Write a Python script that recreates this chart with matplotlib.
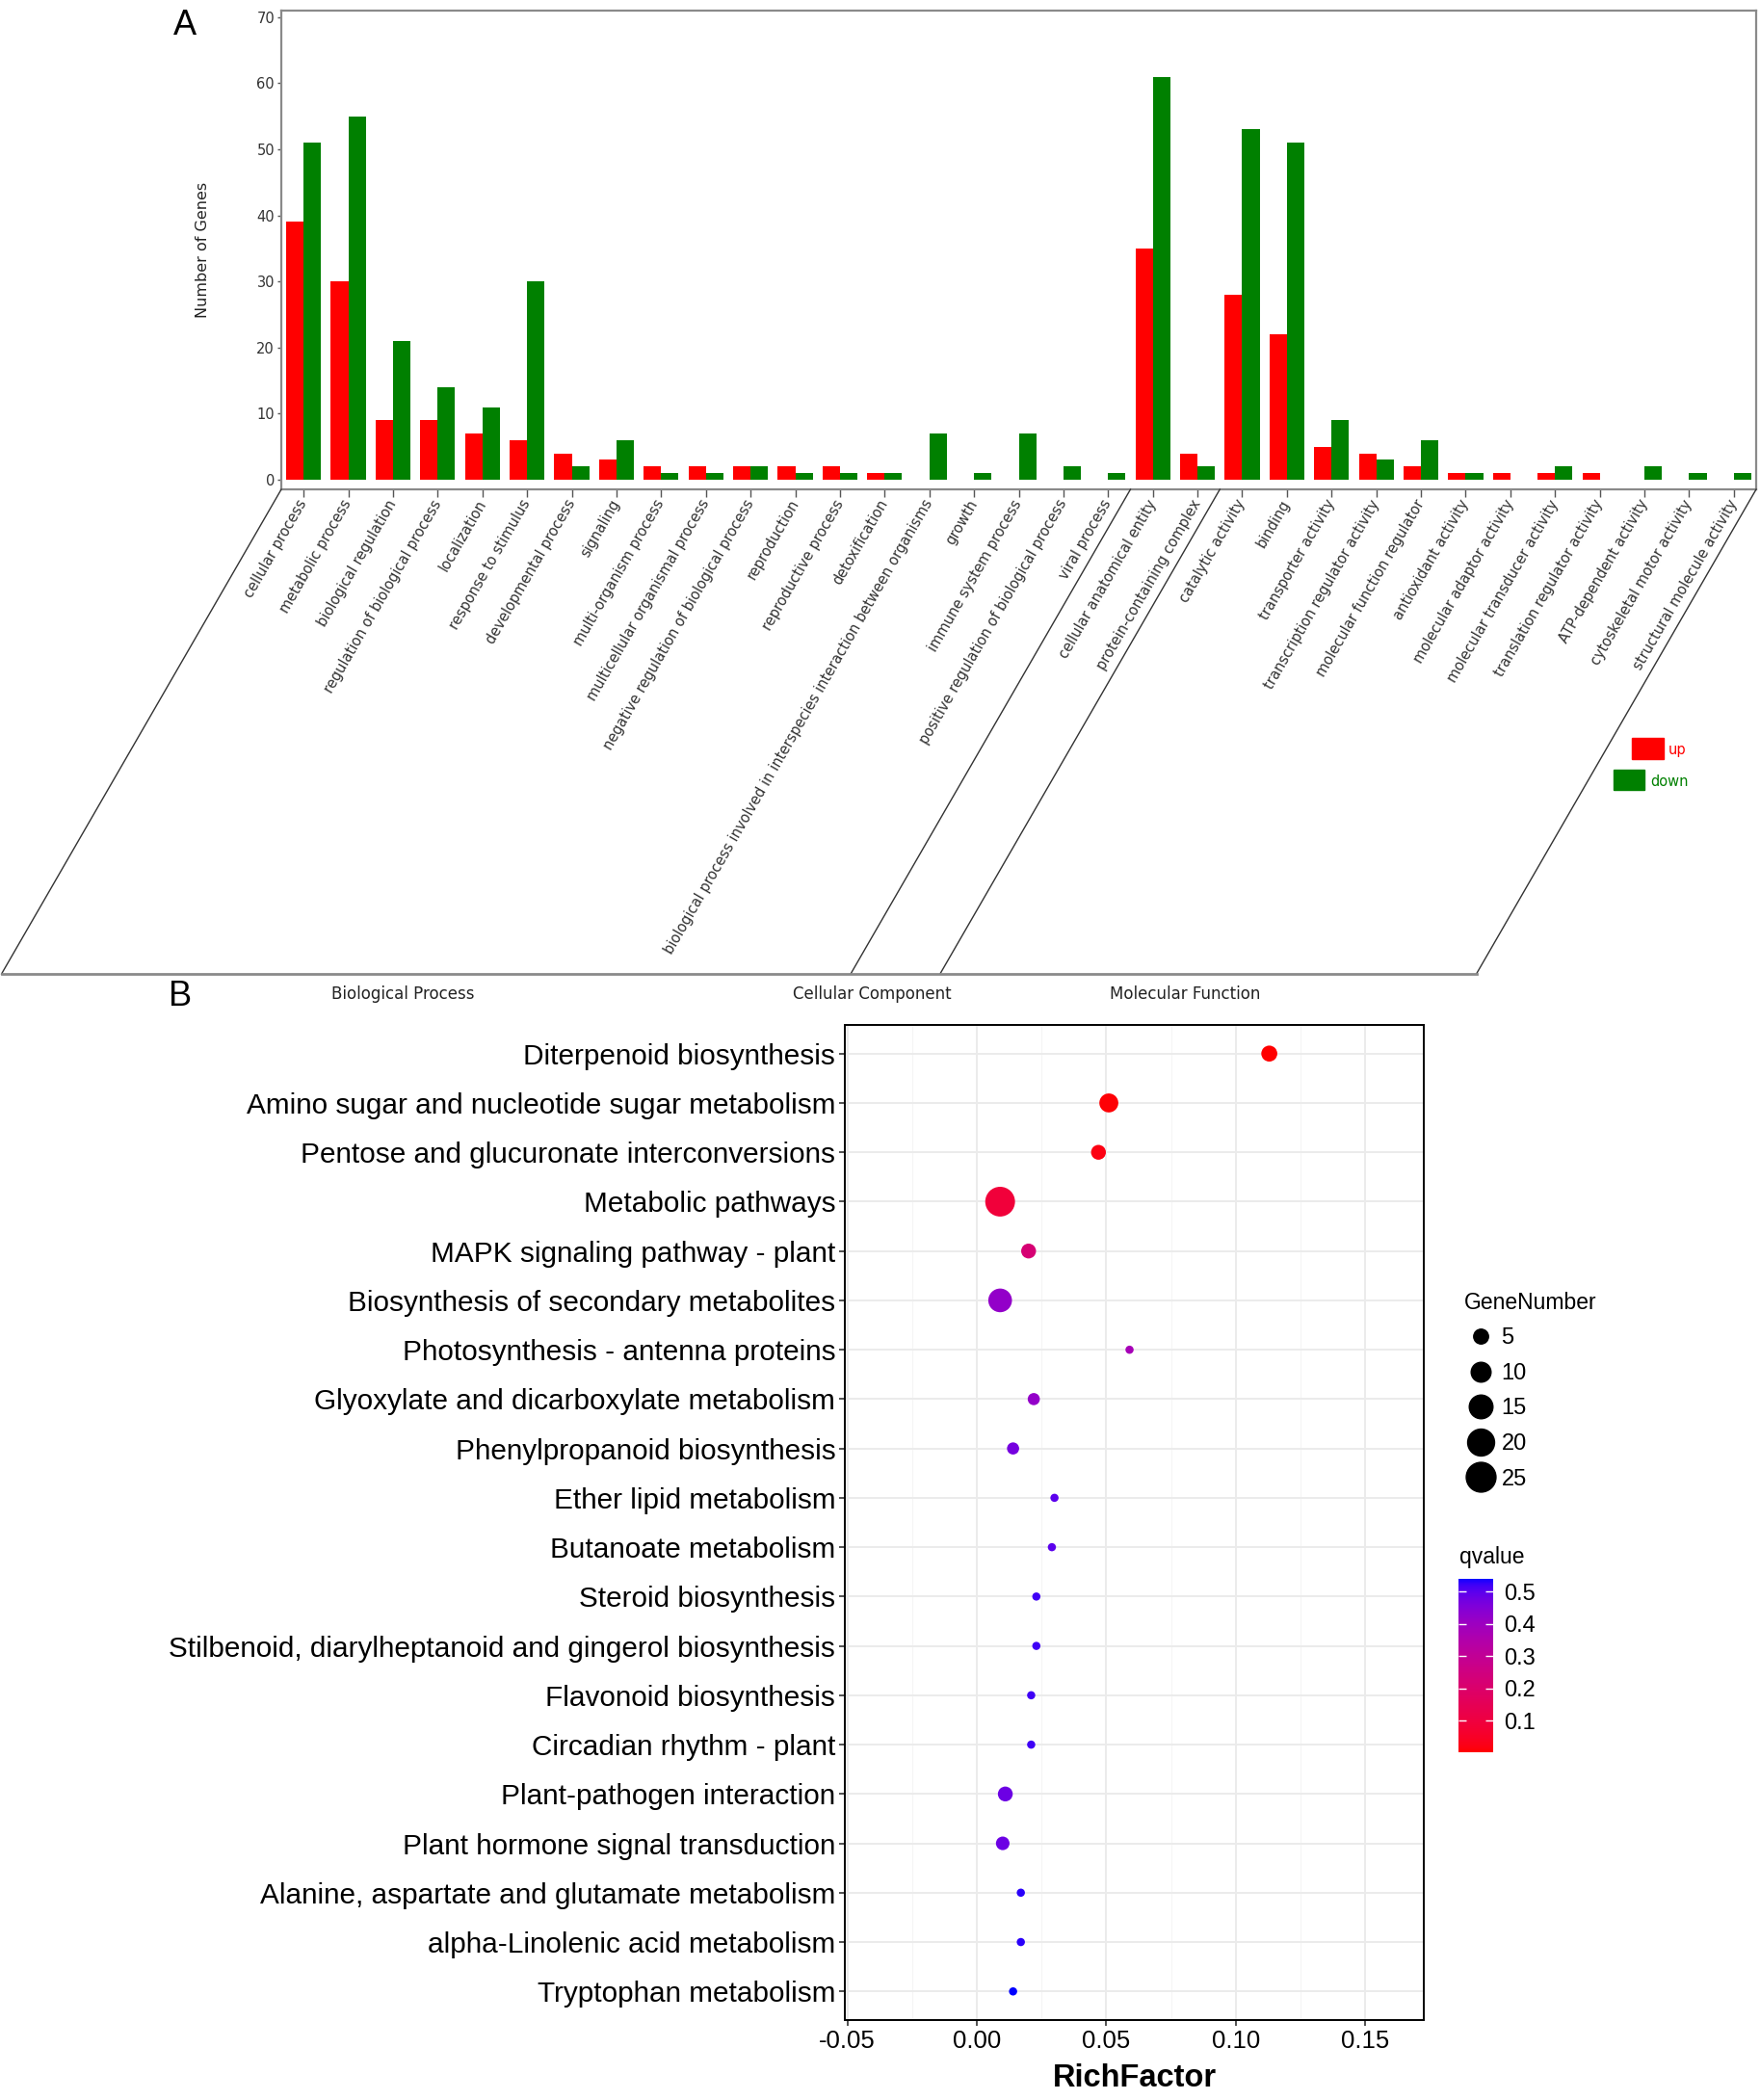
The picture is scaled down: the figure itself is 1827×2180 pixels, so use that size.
import numpy as np
import matplotlib
matplotlib.use("Agg")
import matplotlib.pyplot as plt
from matplotlib.colors import LinearSegmentedColormap
from matplotlib.lines import Line2D
from matplotlib.patches import Rectangle

# ---- panel A: GO classification ----
go_terms = [
    "cellular process", "metabolic process", "biological regulation",
    "regulation of biological process", "localization", "response to stimulus",
    "developmental process", "signaling", "multi-organism process",
    "multicellular organismal process", "negative regulation of biological process",
    "reproduction", "reproductive process", "detoxification",
    "biological process involved in interspecies interaction between organisms",
    "growth", "immune system process", "positive regulation of biological process",
    "viral process",
    "cellular anatomical entity", "protein-containing complex",
    "catalytic activity", "binding", "transporter activity",
    "transcription regulator activity", "molecular function regulator",
    "antioxidant activity", "molecular adaptor activity",
    "molecular transducer activity", "translation regulator activity",
    "ATP-dependent activity", "cytoskeletal motor activity",
    "structural molecule activity",
]
go_up = [39, 30, 9, 9, 7, 6, 4, 3, 2, 2, 2, 2, 2, 1, 0, 0, 0, 0, 0,
         35, 4,
         28, 22, 5, 4, 2, 1, 1, 1, 1, 0, 0, 0]
go_down = [51, 55, 21, 14, 11, 30, 2, 6, 1, 1, 2, 1, 1, 1, 7, 1, 7, 2, 1,
           61, 2,
           53, 51, 9, 3, 6, 1, 0, 2, 0, 2, 1, 1]
go_groups = ["Biological Process", "Cellular Component", "Molecular Function"]
go_group_sizes = [19, 2, 12]

# ---- panel B: KEGG enrichment ----
pathways = [
    "Diterpenoid biosynthesis",
    "Amino sugar and nucleotide sugar metabolism",
    "Pentose and glucuronate interconversions",
    "Metabolic pathways",
    "MAPK signaling pathway - plant",
    "Biosynthesis of secondary metabolites",
    "Photosynthesis - antenna proteins",
    "Glyoxylate and dicarboxylate metabolism",
    "Phenylpropanoid biosynthesis",
    "Ether lipid metabolism",
    "Butanoate metabolism",
    "Steroid biosynthesis",
    "Stilbenoid, diarylheptanoid and gingerol biosynthesis",
    "Flavonoid biosynthesis",
    "Circadian rhythm - plant",
    "Plant-pathogen interaction",
    "Plant hormone signal transduction",
    "Alanine, aspartate and glutamate metabolism",
    "alpha-Linolenic acid metabolism",
    "Tryptophan metabolism",
]
rich_factor = [0.113, 0.051, 0.047, 0.009, 0.020, 0.009, 0.059, 0.022, 0.014, 0.030,
               0.029, 0.023, 0.023, 0.021, 0.021, 0.011, 0.010, 0.017, 0.017, 0.014]
gene_number = [6, 9, 5, 25, 5, 15, 1, 3, 3, 1, 1, 1, 1, 1, 1, 5, 4, 1, 1, 1]
qvalue = [0.003, 0.008, 0.02, 0.09, 0.22, 0.42, 0.38, 0.42, 0.47, 0.50,
          0.50, 0.52, 0.52, 0.52, 0.52, 0.48, 0.48, 0.53, 0.53, 0.54]
size_breaks = [5, 10, 15, 20, 25]
q_ticks = [0.1, 0.2, 0.3, 0.4, 0.5]

W, H = 1827, 2180
plt.rcParams["font.family"] = "DejaVu Sans"
fig = plt.figure(figsize=(W / 100, H / 100), dpi=100)


def lab_cmap(c0, c1, n=256):
    # red -> blue gradient interpolated in CIE Lab, like ggplot's scale_colour_gradient
    M = np.array([[0.4124, 0.3576, 0.1805], [0.2126, 0.7152, 0.0722], [0.0193, 0.1192, 0.9505]])
    white = np.array([0.95047, 1.0, 1.08883])

    def to_lab(rgb):
        rgb = np.asarray(rgb, float)
        lin = np.where(rgb <= 0.04045, rgb / 12.92, ((rgb + 0.055) / 1.055) ** 2.4)
        xyz = M @ lin / white
        f = np.where(xyz > 0.008856, np.cbrt(xyz), 7.787 * xyz + 16 / 116)
        return np.array([116 * f[1] - 16, 500 * (f[0] - f[1]), 200 * (f[1] - f[2])])

    def to_rgb(lab):
        fy = (lab[0] + 16) / 116
        f = np.array([fy + lab[1] / 500, fy, fy - lab[2] / 200])
        xyz = np.where(f ** 3 > 0.008856, f ** 3, (f - 16 / 116) / 7.787) * white
        lin = np.clip(np.linalg.inv(M) @ xyz, 0, 1)
        rgb = np.where(lin <= 0.0031308, 12.92 * lin, 1.055 * lin ** (1 / 2.4) - 0.055)
        return np.clip(rgb, 0, 1)

    l0, l1 = to_lab(c0), to_lab(c1)
    cols = [to_rgb((1 - t) * l0 + t * l1) for t in np.linspace(0, 1, n)]
    return LinearSegmentedColormap.from_list("q", cols)


# ================= panel A =================
axA = fig.add_axes([292 / W, 1 - 508 / H, (1823 - 292) / W, (508 - 11) / H])
x = np.arange(len(go_terms))
bw = 0.39
axA.bar(x - bw / 2, go_up, bw, color="#FF0000", zorder=2)
axA.bar(x + bw / 2, go_down, bw, color="#008000", zorder=2)
axA.set_xlim(-0.5, len(go_terms) - 0.5)
axA.set_ylim(-1.46, 71.0)
axA.set_yticks(range(0, 80, 10))
axA.set_xticks(x)
axA.set_xticklabels(go_terms, rotation=60, ha="right", va="center",
                    rotation_mode="anchor", fontsize=10.5, color="#333333")
axA.tick_params(axis="x", length=5.5, width=1, color="#555555", pad=3)
axA.tick_params(axis="y", length=3, width=1, color="#555555", labelsize=10.5,
                labelcolor="#333333", pad=2)
for s in axA.spines.values():
    s.set_color("#8a8a8a")
    s.set_linewidth(1.6)
axA.set_ylabel("Number of Genes", fontsize=11.5, color="#222222")
axA.yaxis.set_label_coords(-0.0483, 0.5)

# group parallelograms under the axis
fig.canvas.draw()
bounds = np.cumsum([0] + go_group_sizes) - 0.5
top_px = H - 508
bot_px = H - 1011
shift = (top_px - bot_px) / np.tan(np.radians(60))
bot_x = []
for b in bounds:
    xt = axA.transData.transform((b, 0))[0]
    xb = xt - shift
    bot_x.append(xb)
    fig.add_artist(Line2D([xt / W, xb / W], [top_px / H, bot_px / H],
                          color="#333333", lw=1.0))
fig.add_artist(Line2D([bot_x[0] / W, bot_x[-1] / W], [bot_px / H, bot_px / H],
                      color="#8a8a8a", lw=2.0))
for i, g in enumerate(go_groups):
    cx = (bot_x[i] + bot_x[i + 1]) / 2 - 24
    fig.text(cx / W, 1 - 1032 / H, g, ha="center", va="center", fontsize=12,
             color="#222222")

# up/down key
fig.add_artist(Rectangle((1694 / W, 1 - 788 / H), 33 / W, 22 / H, color="#FF0000"))
fig.add_artist(Rectangle((1675 / W, 1 - 820 / H), 32 / W, 21 / H, color="#008000"))
fig.text(1732 / W, 1 - 778 / H, "up", color="#FF0000", fontsize=10.5, va="center")
fig.text(1713 / W, 1 - 811 / H, "down", color="#008000", fontsize=10.5, va="center")

fig.text(192 / W, 1 - 27 / H, "A", fontsize=26, ha="center", va="center",
         family="Liberation Sans")
fig.text(187 / W, 1 - 1035 / H, "B", fontsize=26, ha="center", va="center",
         family="Liberation Sans")

# ================= panel B =================
fontB = "Liberation Sans"
axB = fig.add_axes([877 / W, 1 - 2097 / H, (1478 - 877) / W, (2097 - 1064) / H])
n = len(pathways)
ypos = np.arange(n)[::-1]
cmap = lab_cmap((1, 0, 0), (0, 0, 1))


def dot_size(v):
    d_px = 2.9 + 5.6 * np.sqrt(np.asarray(v, float))
    return (d_px * 0.72) ** 2


sc = axB.scatter(rich_factor, ypos, s=dot_size(gene_number), c=qvalue, cmap=cmap,
                 vmin=min(qvalue), vmax=max(qvalue), edgecolors="none", zorder=3)
axB.set_xlim(-0.051, 0.1727)
axB.set_ylim(-0.58, n - 1 + 0.58)
axB.set_xticks([-0.05, 0.00, 0.05, 0.10, 0.15])
axB.set_xticks([-0.025, 0.025, 0.075, 0.125], minor=True)
axB.set_xticklabels(["-0.05", "0.00", "0.05", "0.10", "0.15"], fontsize=18.5,
                    family=fontB)
axB.set_yticks(ypos)
axB.set_yticklabels(pathways, fontsize=21.4, family=fontB)
axB.tick_params(axis="both", which="major", length=4, width=1.2, color="#333333", pad=3)
axB.tick_params(axis="x", which="minor", length=0)
axB.set_axisbelow(True)
axB.grid(True, which="major", color="#EBEBEB", lw=1.4)
axB.grid(True, which="minor", axis="x", color="#F5F5F5", lw=0.8)
for s in axB.spines.values():
    s.set_color("black")
    s.set_linewidth(1.4)
axB.set_xlabel("RichFactor", fontsize=23.5, fontweight="bold", family=fontB)
axB.xaxis.set_label_coords(0.5, -0.044)

# size legend
handles = [Line2D([], [], ls="", marker="o", color="black",
                  markersize=np.sqrt(dot_size(v))) for v in size_breaks]
leg = fig.legend(handles, [str(v) for v in size_breaks], title="GeneNumber",
                 loc="upper left", bbox_to_anchor=(1503 / W, 1 - 1324 / H),
                 frameon=False, prop={"family": fontB, "size": 17},
                 title_fontproperties={"family": fontB, "size": 16.5},
                 labelspacing=0.62, handlelength=1.5, handletextpad=0.15,
                 borderpad=0.2)
leg._legend_box.align = "left"

# qvalue colourbar
fig.text(1515 / W, 1 - 1616 / H, "qvalue", fontsize=16.5, va="center", family=fontB)
cax = fig.add_axes([1514 / W, 1 - 1819 / H, 36 / W, 180 / H])
cb = fig.colorbar(sc, cax=cax, ticks=q_ticks)
cb.outline.set_visible(False)
cax.tick_params(which="major", direction="in", left=True, right=True, length=6,
                width=1, color="white", labelsize=17, pad=8)
cax.set_yticklabels([str(t) for t in q_ticks], family=fontB)

fig.savefig("out.png", dpi=100)
